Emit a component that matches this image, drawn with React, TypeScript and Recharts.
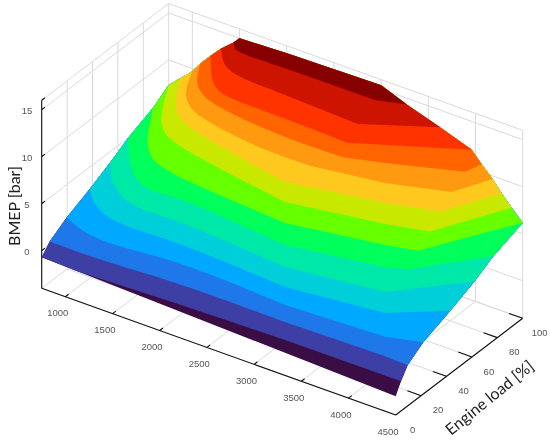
import React from "react";
import { ScatterChart, Scatter, XAxis, YAxis } from "recharts";

// ---- data: iso-BMEP contours as [engine speed, load] ----
const frontEdge = [[750, 0, -0.7], [4500, 0, -2]]; // [rpm, load, bmep] along zero load
const contourM083 = [[1125, 0], [2200, 2.5], [3274, 3.9], [4500, 4.2]];
const contour033 = [[750, 6.3], [1264, 6], [2117, 9.5], [3207, 8.8], [4240, 10], [4500, 9.4]];
const contour150 = [[750, 19.7], [933, 15], [1271, 11.5], [2023, 17], [3150, 13.2], [4173, 16], [4500, 21.7]];
const contour267 = [[750, 38], [868, 30.6], [1205, 20], [1966, 22.4], [3084, 18.1], [4050, 25], [4500, 43]];
const contour383 = [[750, 53.8], [973, 38.6], [1327, 28], [1861, 30.2], [2998, 24.5], [3955, 32], [4500, 62]];
const contour500 = [[750, 68], [1067, 46], [1353, 36], [1728, 39], [2894, 32.2], [3822, 42], [4010, 46], [4500, 77]];
const contour617 = [[750, 87.6], [1059, 58.4], [1388, 45.7], [2789, 40], [3718, 49.7], [4010, 54], [4500, 100]];
const contour733 = [[750, 100], [1034, 70.7], [1350, 59], [2694, 47.1], [3623, 56.8], [4018, 62.8], [4383, 100]];
const contour850 = [[873, 100], [1123, 75.9], [1432, 66], [2609, 53.4], [3528, 63.9], [4008, 71.4], [4277, 100]];
const contour967 = [[997, 100], [1173, 80], [1485, 68.7], [2505, 61.1], [3443, 70.2], [4009, 80.6], [4182, 100]];
const contour1083 = [[1085, 100], [1250, 83.5], [1559, 73.7], [2400, 69], [3000, 70], [3357, 76.5], [4017, 90.5], [4066, 100]];
const contour1200 = [[1190, 100], [1458, 81.2], [1678, 75], [2286, 75], [3000, 73.5], [3960, 100]];
const contour1317 = [[1302, 100], [1547, 85], [2201, 83.7], [3000, 81.7], [3624, 100]];
const contour1433 = [[1438, 100], [1534, 93.9], [2049, 95], [3000, 95.2], [3271, 100]];
const fullLoadPlateau = [[3000, 100, 15.4], [2000, 100, 15.2], [1500, 100, 15]];

const contours = [contourM083, contour033, contour150, contour267, contour383, contour500, contour617, contour733, contour850, contour967, contour1083, contour1200, contour1317, contour1433];
const contourLevels = [-0.83, 0.33, 1.5, 2.67, 3.83, 5, 6.17, 7.33, 8.5, 9.67, 10.83, 12, 13.17, 14.33];
const bandColors = ["#3a0d45", "#3d3fa5", "#1f78ea", "#00a8ff", "#00ced8", "#00e8a8", "#00ff5a", "#66ff00", "#c8e800", "#ffc81e", "#ff9a10", "#ff6400", "#ff3300", "#cc1400", "#870000"];

const rpmTicks = [1000, 1500, 2000, 2500, 3000, 3500, 4000, 4500];
const loadTicks = [0, 20, 40, 60, 80, 100];
const bmepTicks = [0, 5, 10, 15];
const RPM_MIN = 750, RPM_MAX = 4500, Z_MIN = -4, Z_MAX = 16;

// ---- oblique projection of the 3D box on the page ----
const project = (rpm: number, load: number, z: number) => ({
  x: 41.7 + ((rpm - RPM_MIN) / 3750) * 354 + (load / 100) * 127,
  y: 288.3 + ((rpm - RPM_MIN) / 3750) * 126.7 - (load / 100) * 96.7 - (z - Z_MIN) * 9.4,
});

// the contours are rounded at low engine speed, and keep a sharp corner at high speed
const roundLowSpeed = (c: number[][]) => {
  let pts = c;
  for (let it = 0; it < 3; it++) {
    const next: number[][] = [pts[0]];
    for (let i = 1; i < pts.length - 1; i++) {
      const [p, q, s] = [pts[i - 1], pts[i], pts[i + 1]];
      if (q[0] < 2600) {
        next.push([q[0] * 0.75 + p[0] * 0.25, q[1] * 0.75 + p[1] * 0.25]);
        next.push([q[0] * 0.75 + s[0] * 0.25, q[1] * 0.75 + s[1] * 0.25]);
      } else next.push(q);
    }
    next.push(pts[pts.length - 1]);
    pts = next;
  }
  return pts;
};

const lifted = contours.map((c, i) => roundLowSpeed(c).map(([r, l]) => project(r, l, contourLevels[i])));
const plateau = fullLoadPlateau.map(([r, l, z]) => project(r, l, z));
const front = frontEdge.map(([r, l, z]) => project(r, l, z));

// each band is painted as "everything at or above its lower contour", lowest first
const regionAbove = (k: number) => {
  const pts: any[] = [];
  if (k === 0) pts.push(...front); else pts.push(...lifted[k - 1]);
  for (let j = k; j < lifted.length; j++) pts.push(lifted[j][lifted[j].length - 1]);
  pts.push(...plateau);
  for (let j = lifted.length - 1; j >= Math.max(k, 1); j--) pts.push(lifted[j][0]);
  if (k === 1) pts.push(front[0]);
  return pts;
};
const bandPolygons = bandColors.map((color, k) => ({ color, points: regionAbove(k) }));

// ---- box lines ----
const GRID = "#d9d9d9";
const seg = (a: any, b: any) => [a, b];
const gridSegs: any[] = [];
bmepTicks.concat([Z_MIN, Z_MAX]).forEach((z) => {
  gridSegs.push(...seg(project(RPM_MIN, 0, z), project(RPM_MIN, 100, z)));
  gridSegs.push(...seg(project(RPM_MIN, 100, z), project(RPM_MAX, 100, z)));
});
loadTicks.forEach((l) => {
  gridSegs.push(...seg(project(RPM_MIN, l, Z_MIN), project(RPM_MIN, l, Z_MAX)));
  gridSegs.push(...seg(project(RPM_MIN, l, Z_MIN), project(RPM_MAX, l, Z_MIN)));
});
rpmTicks.forEach((r) => {
  gridSegs.push(...seg(project(r, 100, Z_MIN), project(r, 100, Z_MAX)));
  gridSegs.push(...seg(project(r, 0, Z_MIN), project(r, 100, Z_MIN)));
});

const axisSegs: any[] = [
  ...seg(project(RPM_MIN, 0, Z_MIN), project(RPM_MIN, 0, Z_MAX)),
  ...seg(project(RPM_MIN, 0, Z_MIN), project(RPM_MAX, 0, Z_MIN)),
  ...seg(project(RPM_MAX, 0, Z_MIN), project(RPM_MAX, 100, Z_MIN)),
];
bmepTicks.concat([Z_MAX]).forEach((z) => axisSegs.push(...seg(project(RPM_MIN, 0, z), project(RPM_MIN, 2.6, z))));
rpmTicks.forEach((r) => axisSegs.push(...seg(project(r, 0, Z_MIN), project(r, 2.6, Z_MIN))));
loadTicks.forEach((l) => axisSegs.push(...seg(project(RPM_MAX, l, Z_MIN), project(RPM_MAX - 145, l, Z_MIN))));

const bmepLabels = bmepTicks.map((z) => ({ ...project(RPM_MIN, 0, z), text: String(z), dx: -14.7, dy: 1 }));
const rpmLabels = rpmTicks.map((r) => ({ ...project(r, 0, Z_MIN), text: String(r), dx: -7.6, dy: 16 }));
const loadLabels = loadTicks.map((l) => ({ ...project(RPM_MAX, l, Z_MIN), text: String(l), dx: 17, dy: 14.3 }));
const tickLabels = [...bmepLabels, ...rpmLabels, ...loadLabels];
const axisTitles = [
  { x: 13, y: 206, text: "BMEP [bar]", angle: -90 },
  { x: 489, y: 397, text: "Engine load [%]", angle: -39 },
];

const polygonLine = (fill: string) => (p: any) => {
  const d = p.points.map((q: any, i: number) => `${i ? "L" : "M"}${q.x} ${q.y}`).join("") + "Z";
  return <path d={d} fill={fill} stroke="none" />;
};
const segmentsLine = (stroke: string, width: number) => (p: any) => {
  const d = p.points.map((q: any, i: number) => `${i % 2 ? "L" : "M"}${q.x} ${q.y}`).join("");
  return <path d={d} fill="none" stroke={stroke} strokeWidth={width} />;
};
const noDot = () => <g />;
const tickText = (p: any) => (
  <text x={p.cx + p.payload.dx} y={p.cy + p.payload.dy} textAnchor="middle" dominantBaseline="central" fontFamily="Liberation Sans, Arial, sans-serif" fontSize={9.5} fill="#555">
    {p.payload.text}
  </text>
);
const titleText = (p: any) => (
  <text x={p.cx} y={p.cy} textAnchor="middle" dominantBaseline="central" fontFamily="Lato, sans-serif" fontSize={16} fill="#222" transform={`rotate(${p.payload.angle} ${p.cx} ${p.cy})`}>
    {p.payload.text}
  </text>
);

export default function App() {
  return (
    <div style={{ position: "absolute", left: 0, top: 0, filter: "blur(0.35px)" }}>
      <ScatterChart width={550} height={441} margin={{ top: 0, right: 0, bottom: 0, left: 0 }}>
        <XAxis type="number" dataKey="x" domain={[0, 550]} hide />
        <YAxis type="number" dataKey="y" domain={[0, 441]} reversed hide />
        <Scatter data={gridSegs} isAnimationActive={false} shape={noDot} line={segmentsLine(GRID, 1)} />
        {bandPolygons.map((b) => (
          <Scatter key={b.color} data={b.points} isAnimationActive={false} shape={noDot} line={polygonLine(b.color)} />
        ))}
        <Scatter data={axisSegs} isAnimationActive={false} shape={noDot} line={segmentsLine("#111", 1.1)} />
        <Scatter data={tickLabels} isAnimationActive={false} shape={tickText} />
        <Scatter data={axisTitles} isAnimationActive={false} shape={titleText} />
      </ScatterChart>
    </div>
  );
}
